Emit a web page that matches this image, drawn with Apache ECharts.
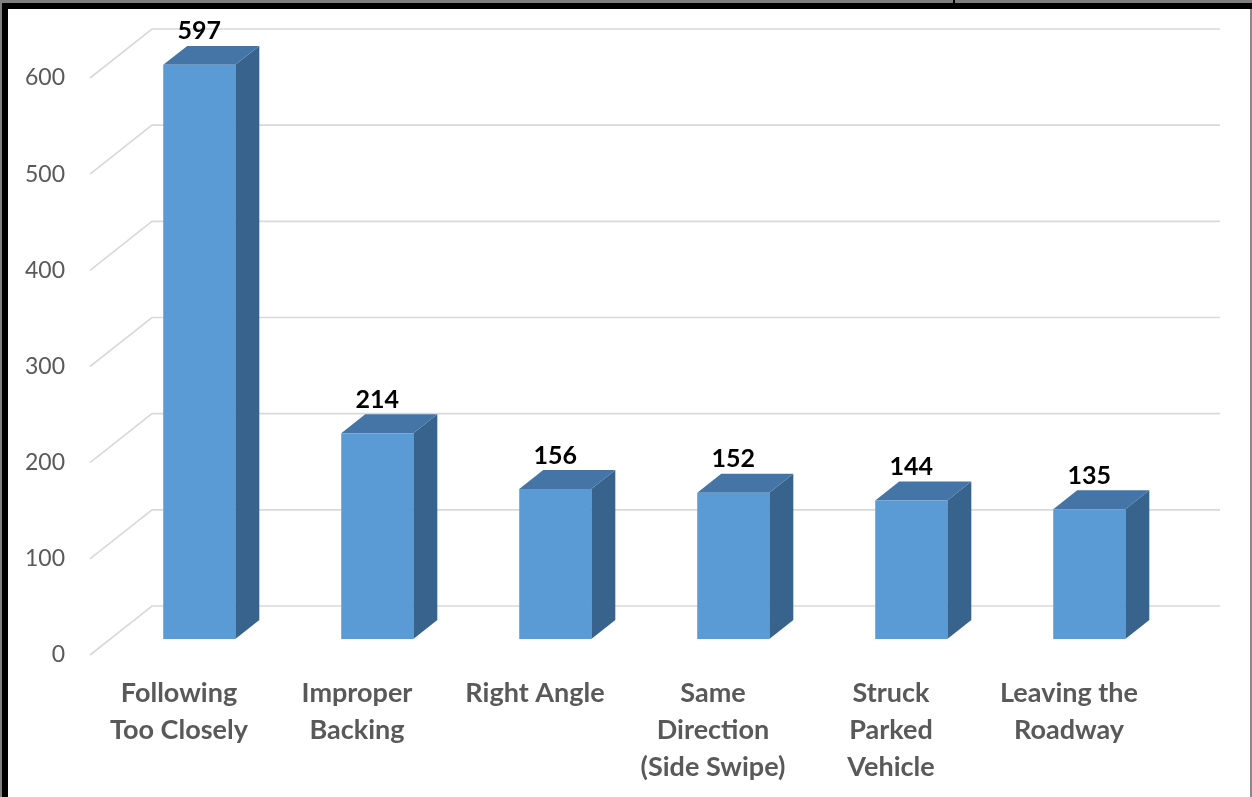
<!DOCTYPE html>
<html>
<head>
<meta charset="utf-8">
<title>Crash Types</title>
<script src="https://cdn.jsdelivr.net/npm/echarts@6/dist/echarts.min.js"></script>
<style>
  html, body { margin: 0; padding: 0; background: #ffffff; }
  #chart { position: absolute; left: 0; top: 0; width: 1252px; height: 797px; }
</style>
</head>
<body>
<div id="chart"></div>
<script>
// Crash counts by manner of collision
const categories = [
  'Following\nToo Closely',
  'Improper\nBacking',
  'Right Angle',
  'Same\nDirection\n(Side Swipe)',
  'Struck\nParked\nVehicle',
  'Leaving the\nRoadway'
];
const crashCounts = [597, 214, 156, 152, 144, 135];
const yTicks = [0, 100, 200, 300, 400, 500, 600];

// Depth of the 3D floor (front edge -> back wall), in pixels
const DEPTH = [62, -49];
// Bar front / back faces as fractions of that depth
const BAR_FRONT = 0.327;
const BAR_BACK = 0.714;
const BAR_WIDTH_RATIO = 0.405;

const colors = {
  front: '#5B9BD5',
  top: '#4475A6',
  side: '#37638D',
  grid: '#D9D9D9',
  text: '#595959'
};

const chart = echarts.init(document.getElementById('chart'), null, { renderer: 'canvas' });

function renderWall(params, api) {
  const cs = params.coordSys;
  const v = api.value(1);
  const y = api.coord([0, v])[1];
  const fx = cs.x;
  const bx = fx + DEPTH[0];
  const by = y + DEPTH[1];
  const rx = cs.x + cs.width + DEPTH[0];
  return {
    type: 'polyline',
    shape: { points: [[fx, y], [bx, by], [rx, by]] },
    style: { stroke: colors.grid, lineWidth: 1.6, fill: null },
    silent: true
  };
}

function renderBar(params, api) {
  const idx = api.value(0);
  const v = api.value(1);
  const base = api.coord([idx, 0]);
  const topPt = api.coord([idx, v]);
  const band = api.size([1, 0])[0];
  const w = band * BAR_WIDTH_RATIO;
  const fx = DEPTH[0] * BAR_FRONT, fy = DEPTH[1] * BAR_FRONT;
  const dx = DEPTH[0] * (BAR_BACK - BAR_FRONT), dy = DEPTH[1] * (BAR_BACK - BAR_FRONT);
  const x0 = base[0] + fx - w / 2;
  const x1 = x0 + w;
  const yb = base[1] + fy;
  const yt = topPt[1] + fy;
  return {
    type: 'group',
    children: [
      {
        type: 'polygon',
        shape: { points: [[x1, yb], [x1, yt], [x1 + dx, yt + dy], [x1 + dx, yb + dy]] },
        style: { fill: colors.side }
      },
      {
        type: 'polygon',
        shape: { points: [[x0, yt], [x1, yt], [x1 + dx, yt + dy], [x0 + dx, yt + dy]] },
        style: { fill: colors.top }
      },
      {
        type: 'rect',
        shape: { x: x0, y: yt, width: w, height: yb - yt },
        style: { fill: colors.front }
      },
      {
        type: 'text',
        x: x0 + w / 2,
        y: yt + dy - 2,
        style: {
          text: String(v),
          align: 'center',
          verticalAlign: 'bottom',
          fill: '#000000',
          font: 'bold 25px Lato'
        }
      }
    ]
  };
}

const option = {
  animation: false,
  backgroundColor: '#ffffff',
  grid: { left: 90, top: 78, width: 1068, height: 577, containLabel: false },
  xAxis: {
    type: 'category',
    data: categories,
    axisLine: { show: false },
    axisTick: { show: false },
    splitLine: { show: false },
    axisLabel: {
      interval: 0,
      margin: 20,
      color: colors.text,
      fontFamily: 'Lato',
      fontWeight: 'bold',
      fontSize: 27,
      lineHeight: 37,
      align: 'center'
    }
  },
  yAxis: {
    type: 'value',
    min: 0,
    max: 600,
    interval: 100,
    axisLine: { show: false },
    axisTick: { show: false },
    splitLine: { show: false },
    axisLabel: {
      margin: 25,
      color: colors.text,
      fontFamily: 'Lato',
      fontSize: 23
    }
  },
  series: [
    {
      type: 'custom',
      name: 'walls',
      renderItem: renderWall,
      data: yTicks.map(v => [0, v]),
      encode: { x: 0, y: 1 },
      z: 1,
      silent: true
    },
    {
      type: 'custom',
      name: 'Crashes',
      renderItem: renderBar,
      data: crashCounts.map((v, i) => [i, v]),
      encode: { x: 0, y: 1 },
      z: 2
    }
  ],
  graphic: [
    { type: 'rect', shape: { x: 0, y: 0, width: 1252, height: 4 }, style: { fill: '#808080' }, z: 10 },
    { type: 'rect', shape: { x: 0, y: 3, width: 1252, height: 6 }, style: { fill: '#000000' }, z: 10 },
    { type: 'rect', shape: { x: 953, y: 0, width: 2, height: 4 }, style: { fill: '#000000' }, z: 10 },
    { type: 'rect', shape: { x: 0, y: 0, width: 2, height: 797 }, style: { fill: '#808080' }, z: 10 },
    { type: 'rect', shape: { x: 2, y: 3, width: 6, height: 794 }, style: { fill: '#000000' }, z: 10 },
    { type: 'rect', shape: { x: 1250, y: 9, width: 2, height: 788 }, style: { fill: '#8a8a8a' }, z: 10 }
  ]
};

chart.setOption(option);
</script>
</body>
</html>
